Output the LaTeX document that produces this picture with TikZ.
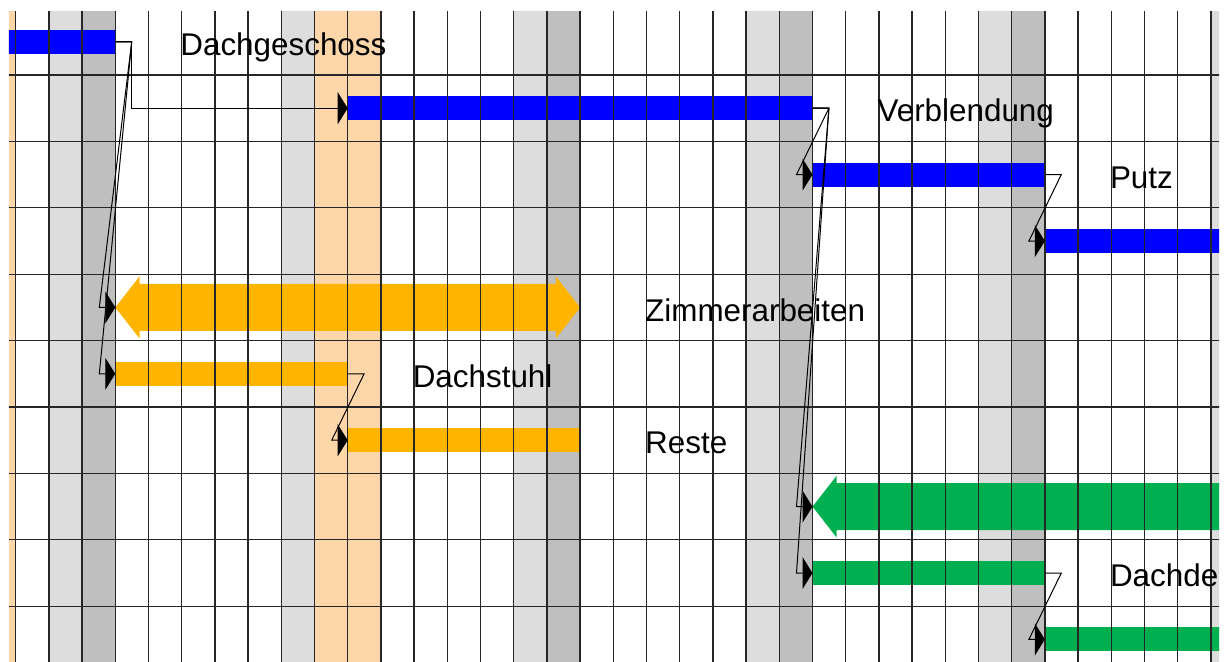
\documentclass[tikz,border=0pt]{standalone}
\usepackage{fontspec}
\setmainfont{Liberation Sans}
\usetikzlibrary{calc,arrows.meta}
\definecolor{gblue}{RGB}{0,0,255}
\definecolor{gorange}{RGB}{255,181,0}
\definecolor{ggreen}{RGB}{0,176,80}
\definecolor{holiday}{RGB}{253,215,170}
\definecolor{satgray}{RGB}{221,221,221}
\definecolor{sungray}{RGB}{191,191,191}
\tikzstyle{ganttbar}=[rectangle, inner sep=0, anchor=west, minimum height=24pt]
\tikzstyle{gridline}=[line width=1.3pt, black!85]
\tikzstyle{fslink}=[line width=1pt, -{Triangle[length=10pt,width=32pt]}]
\tikzstyle{tasklabel}=[anchor=base west, inner sep=0, xshift=-1.5pt, font=\fontsize{31.4}{36}\selectfont]

\begin{document}
\begin{tikzpicture}[x=33.2pt, y=-66.4pt]
    \useasboundingbox (-0.473,-0.13) rectangle (36.395,9.84);
    \clip (-0.202,0.036) rectangle (36.244,9.84);

    % weekends and holidays
    \foreach \k in {1,8,15,22,29,36}
        \fill[satgray] (\k,0) rectangle ++(1,10);
    \foreach \k in {2,16,23,30}
        \fill[sungray] (\k,0) rectangle ++(1,10);
    \foreach \k in {-1,9,10}
        \fill[holiday] (\k,0) rectangle ++(1,10);

    % tasks
    \node[ganttbar, fill=gblue, minimum width=132.8pt] (dg) at (-1,0.5) {};
    \node[ganttbar, fill=gblue, minimum width=464.8pt] (vb) at (10,1.5) {};
    \node[ganttbar, fill=gblue, minimum width=232.4pt] (putz) at (24,2.5) {};
    \node[ganttbar, fill=gblue, minimum width=232.4pt] (fs) at (31,3.5) {};
    \node[ganttbar, fill=gorange, minimum width=232.4pt] (ds) at (3,5.5) {};
    \node[ganttbar, fill=gorange, minimum width=232.4pt] (reste) at (10,6.5) {};
    \node[ganttbar, fill=ggreen, minimum width=232.4pt] (dd) at (24,8.5) {};
    \node[ganttbar, fill=ggreen, minimum width=232.4pt] (dd2) at (31,9.5) {};

    % summary tasks
    \coordinate (zi) at (3,4.5);
    \coordinate (dach) at (24,7.5);
    \fill[gorange] (zi) -- (3.73,4.033) -- (3.73,4.146) -- (16.27,4.146) -- (16.27,4.033)
        -- (17,4.5) -- (16.27,4.967) -- (16.27,4.854) -- (3.73,4.854) -- (3.73,4.967) -- cycle;
    \fill[ggreen] (dach) -- (24.73,7.033) -- (24.73,7.146) -- (38,7.146)
        -- (38,7.854) -- (24.73,7.854) -- (24.73,7.967) -- cycle;

    % grid
    \foreach \k in {0,...,36}
        \draw[gridline] (\k,0) -- (\k,10);
    \foreach \j in {1,...,9}
        \draw[gridline] (-1,\j) -- (37,\j);

    % links
    \draw[fslink] (dg.east) -- ++(16pt,0) |- (vb.west);
    \draw[fslink] (dg.east) -- ++(16pt,0) -- ($(zi)+(-16pt,0)$) -- (zi);
    \draw[fslink] (dg.east) -- ++(16pt,0) -- ($(ds.west)+(-16pt,0)$) -- (ds.west);
    \draw[fslink] (vb.east) -- ++(16pt,0) -- ($(putz.west)+(-16pt,0)$) -- (putz.west);
    \draw[fslink] (vb.east) -- ++(16pt,0) -- ($(dach)+(-16pt,0)$) -- (dach);
    \draw[fslink] (vb.east) -- ++(16pt,0) -- ($(dd.west)+(-16pt,0)$) -- (dd.west);
    \draw[fslink] (putz.east) -- ++(16pt,0) -- ($(fs.west)+(-16pt,0)$) -- (fs.west);
    \draw[fslink] (ds.east) -- ++(16pt,0) -- ($(reste.west)+(-16pt,0)$) -- (reste.west);
    \draw[fslink] (dd.east) -- ++(16pt,0) -- ($(dd2.west)+(-16pt,0)$) -- (dd2.west);

    % labels
    \node[tasklabel] (l-dg) at (5,0.705) {Dachgeschoss};
    \node[tasklabel] (l-vb) at (26,1.705) {Verblendung};
    \node[tasklabel] (l-putz) at (33,2.705) {Putz};
    \node[tasklabel] (l-zi) at (19,4.705) {Zimmerarbeiten};
    \node[tasklabel] (l-ds) at (12,5.705) {Dachstuhl};
    \node[tasklabel] (l-reste) at (19,6.705) {Reste};
    \node[tasklabel] (l-dd) at (33,8.705) {Dachde};
\end{tikzpicture}
\end{document}
